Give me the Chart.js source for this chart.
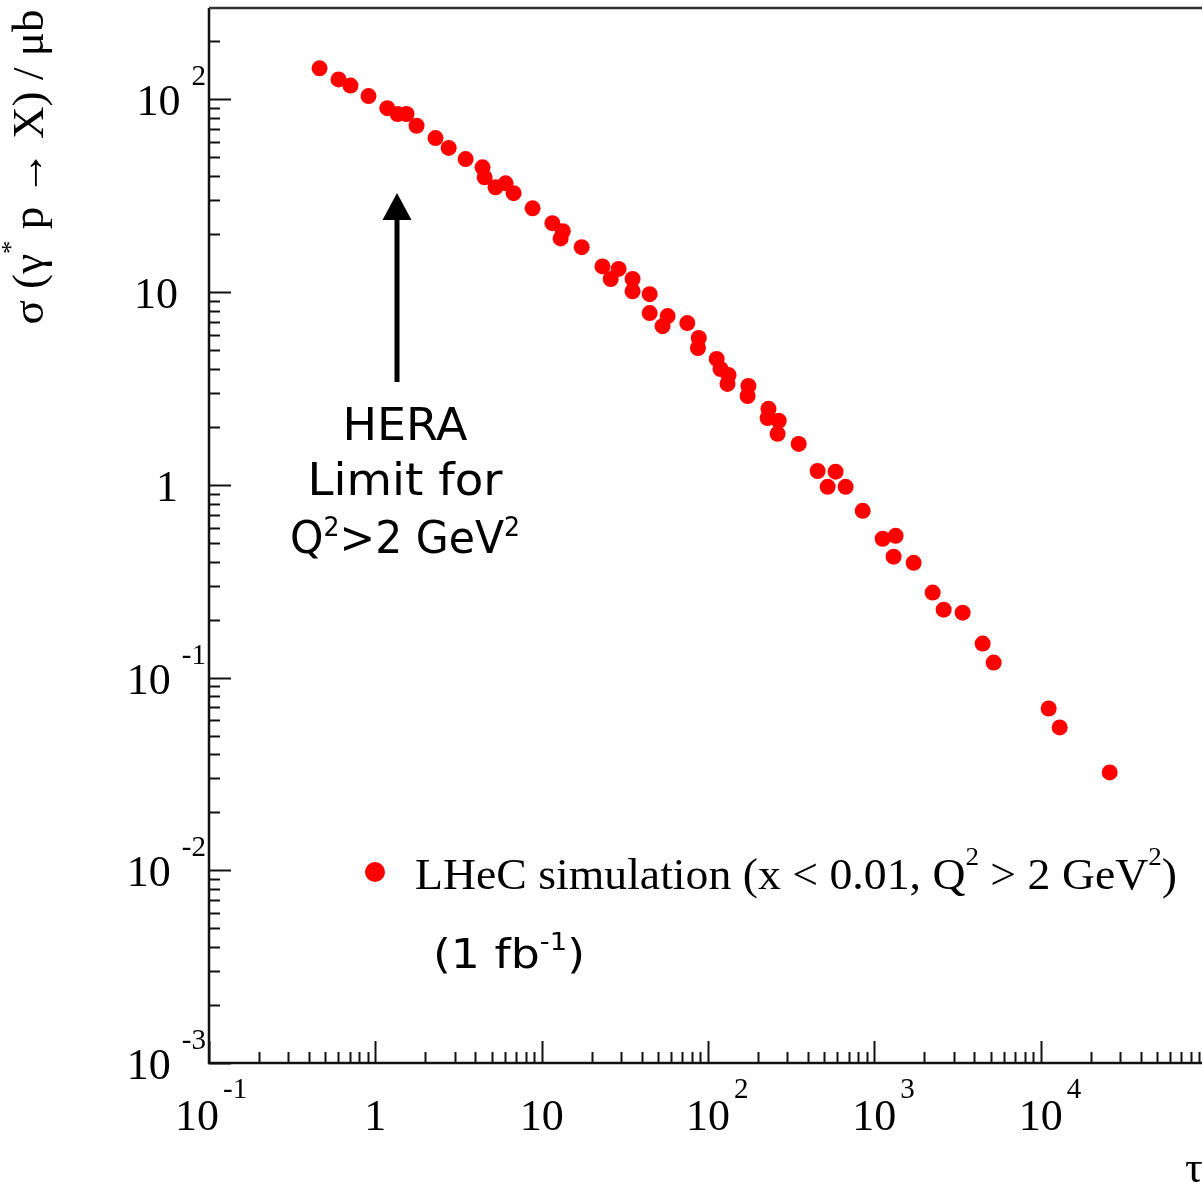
<!DOCTYPE html>
<html>
<head>
<meta charset="utf-8">
<script src="https://cdn.jsdelivr.net/npm/chart.js@4.4.1/dist/chart.umd.min.js"></script>
<style>
  html, body { margin: 0; padding: 0; background: #fff; overflow: hidden; }
  #wrap { width: 1210px; height: 1184px; }
</style>
</head>
<body>
<div id="wrap"><canvas id="chart" width="1210" height="1184"></canvas></div>
<script>
// LHeC simulation points (tau, sigma in microbarn)
const tauValues = [
  0.462, 0.601, 0.709, 0.910, 1.18, 1.36, 1.54, 1.77, 2.30, 2.76,
  3.49, 4.41, 4.54, 5.28, 6.07, 6.78, 8.82, 11.6, 13.4, 13.0,
  17.4, 23.2, 29.0, 26.0, 35.2, 35.2, 44.6, 44.6, 57.2, 53.3,
  75.1, 88, 87, 112.8, 118.9, 133, 131, 175, 173, 231,
  228, 266, 262, 351, 456, 585, 524, 672, 851, 1122,
  1343, 1306, 1723, 2242, 2611, 3396, 4480, 5217, 11170, 13010,
  26000
]
const sigmaValues = [
  145, 127, 118, 104, 90, 84, 84, 73, 63, 56,
  49, 44.4, 39.4, 35.0, 36.7, 32.6, 27.2, 22.8, 20.7, 19.0,
  17.1, 13.6, 13.2, 11.7, 11.7, 10.1, 9.76, 7.78, 7.51, 6.66,
  6.91, 5.78, 5.13, 4.50, 3.99, 3.71, 3.34, 3.26, 2.89, 2.48,
  2.22, 2.15, 1.84, 1.63, 1.18, 1.17, 0.976, 0.976, 0.733, 0.525,
  0.544, 0.424, 0.394, 0.276, 0.225, 0.217, 0.150, 0.1196, 0.0691, 0.0551,
  0.0322
]

const xTickValues = [0.1, 1, 10, 100, 1000, 10000]
const xTickLabels = [["10", "-1"], ["1", ""], ["10", ""], ["10", "2"], ["10", "3"], ["10", "4"]]
const yTickValues = [0.001, 0.01, 0.1, 1, 10, 100]
const yTickLabels = [["10", "-3"], ["10", "-2"], ["10", "-1"], ["1", ""], ["10", ""], ["10", "2"]]

const SERIF = "'Liberation Serif', 'DejaVu Serif', serif"
const HAND = "'DejaVu Sans', 'Noto Sans', sans-serif"

function runWidth(ctx, parts) {
  let w = 0
  parts.forEach((p) => {
    ctx.font = `${p.size}px ${p.family}`
    w += (p.gap || 0) + ctx.measureText(p.text).width
  })
  return w
}

// draws a run of text pieces (for superscripts), optionally squeezed to a width
function drawRun(ctx, parts, x, y, align, fitWidth) {
  const w = runWidth(ctx, parts)
  const sx = fitWidth ? fitWidth / w : 1
  const start = align === "center" ? x - (w * sx) / 2 : align === "right" ? x - w * sx : x
  ctx.save()
  ctx.translate(start, y)
  ctx.scale(sx, 1)
  ctx.textAlign = "left"
  ctx.textBaseline = "alphabetic"
  let cx = 0
  parts.forEach((p) => {
    ctx.font = `${p.size}px ${p.family}`
    cx += p.gap || 0
    ctx.fillText(p.text, cx, -(p.rise || 0))
    cx += ctx.measureText(p.text).width
  })
  ctx.restore()
}

function logTicks(min, max) {
  const out = []
  for (let e = Math.floor(Math.log10(min)); e <= Math.ceil(Math.log10(max)); e++) {
    for (let m = 1; m <= 9; m++) {
      const v = m * Math.pow(10, e)
      if (v >= min * 0.999 && v <= max * 1.001) out.push({ v, major: m === 1 })
    }
  }
  return out
}

const framePlugin = {
  id: "frame",
  afterDraw(chart) {
    const { ctx, chartArea: a, scales: { x, y } } = chart
    ctx.save()
    ctx.strokeStyle = "#111"
    ctx.lineCap = "butt"

    // ticks drawn inward, ROOT style
    ctx.lineWidth = 2
    logTicks(x.min, x.max).forEach((t) => {
      const px = Math.round(x.getPixelForValue(t.v)) + 0.5
      ctx.beginPath()
      ctx.moveTo(px, a.bottom)
      ctx.lineTo(px, a.bottom - (t.major ? 22 : 11))
      ctx.stroke()
    })
    logTicks(y.min, y.max).forEach((t) => {
      const py = Math.round(y.getPixelForValue(t.v)) + 0.5
      ctx.beginPath()
      ctx.moveTo(a.left, py)
      ctx.lineTo(a.left + (t.major ? 22 : 11), py)
      ctx.stroke()
    })

    // axis lines and top edge
    ctx.lineWidth = 2.5
    ctx.beginPath()
    ctx.moveTo(a.left, a.top)
    ctx.lineTo(a.left, a.bottom)
    ctx.lineTo(a.right, a.bottom)
    ctx.stroke()
    ctx.strokeStyle = "#333"
    ctx.beginPath()
    ctx.moveTo(a.left, a.top)
    ctx.lineTo(a.right, a.top)
    ctx.stroke()

    // tick labels
    ctx.fillStyle = "#000"
    xTickValues.forEach((v, i) => {
      const [base, exp] = xTickLabels[i]
      ctx.font = `44px ${SERIF}`
      const bw = ctx.measureText(base).width
      const px = x.getPixelForValue(v) - bw / 2 - (i === 0 ? 12 : 0)
      const parts = [{ text: base, size: 44, family: SERIF }]
      if (exp) parts.push({ text: exp, size: 29, family: SERIF, rise: 32, gap: 4 })
      drawRun(ctx, parts, px, 1130, "left")
    })
    yTickValues.forEach((v, i) => {
      const [base, exp] = yTickLabels[i]
      const py = y.getPixelForValue(v) + 16
      if (exp) {
        drawRun(ctx, [
          { text: base, size: 44, family: SERIF },
          { text: exp, size: 29, family: SERIF, rise: 30, gap: 11 }
        ], 206, py, "right")
      } else {
        drawRun(ctx, [{ text: base, size: 44, family: SERIF }], 178, py, "right")
      }
    })

    // axis titles
    ctx.save()
    ctx.translate(43, 167)
    ctx.rotate(-Math.PI / 2)
    drawRun(ctx, [
      { text: "σ (γ", size: 44, family: SERIF },
      { text: "*", size: 26, family: SERIF, rise: 24 },
      { text: " p → X) / μb", size: 44, family: SERIF }
    ], 0, 0, "center", 315)
    ctx.restore()
    drawRun(ctx, [{ text: "τ", size: 44, family: SERIF }], 1185, 1182, "left")

    // legend
    ctx.fillStyle = "#ff0000"
    ctx.beginPath()
    ctx.arc(375, 872, 10, 0, Math.PI * 2)
    ctx.fill()
    ctx.fillStyle = "#000"
    drawRun(ctx, [
      { text: "LHeC simulation (x < 0.01, Q", size: 44, family: SERIF },
      { text: "2", size: 26, family: SERIF, rise: 24 },
      { text: " > 2 GeV", size: 44, family: SERIF },
      { text: "2", size: 26, family: SERIF, rise: 24 },
      { text: ")", size: 44, family: SERIF }
    ], 415, 889, "left", 762)
    drawRun(ctx, [
      { text: "(1 fb", size: 40, family: HAND },
      { text: "-1", size: 24, family: HAND, rise: 18 },
      { text: ")", size: 40, family: HAND }
    ], 433, 968, "left", 152)

    // HERA limit annotation
    ctx.lineWidth = 5
    ctx.strokeStyle = "#000"
    ctx.beginPath()
    ctx.moveTo(397, 382)
    ctx.lineTo(397, 215)
    ctx.stroke()
    ctx.beginPath()
    ctx.moveTo(397, 193)
    ctx.lineTo(411.5, 220)
    ctx.lineTo(382.5, 220)
    ctx.closePath()
    ctx.fill()
    drawRun(ctx, [{ text: "HERA", size: 44, family: HAND }], 405, 440, "center", 125)
    drawRun(ctx, [{ text: "Limit for", size: 44, family: HAND }], 405, 495, "center", 195)
    drawRun(ctx, [
      { text: "Q", size: 44, family: HAND },
      { text: "2", size: 26, family: HAND, rise: 17 },
      { text: ">2 GeV", size: 44, family: HAND },
      { text: "2", size: 26, family: HAND, rise: 17 }
    ], 405, 553, "center", 230)
    ctx.restore()
  }
}

const ctx = document.getElementById("chart").getContext("2d")
new Chart(ctx, {
  type: "scatter",
  data: {
    datasets: [{
      label: "LHeC simulation",
      data: tauValues.map((t, i) => ({ x: t, y: sigmaValues[i] })),
      backgroundColor: "#ff0000",
      borderWidth: 0,
      pointRadius: 8,
      pointHoverRadius: 8
    }]
  },
  options: {
    responsive: false,
    animation: false,
    devicePixelRatio: 1,
    layout: { autoPadding: false, padding: { left: 209, right: 3, top: 8, bottom: 121 } },
    plugins: {
      legend: { display: false },
      tooltip: { enabled: false }
    },
    scales: {
      x: { type: "logarithmic", min: 0.1, max: 1e5, display: false },
      y: { type: "logarithmic", min: 1e-3, max: 298, display: false }
    }
  },
  plugins: [framePlugin]
})
</script>
</body>
</html>
